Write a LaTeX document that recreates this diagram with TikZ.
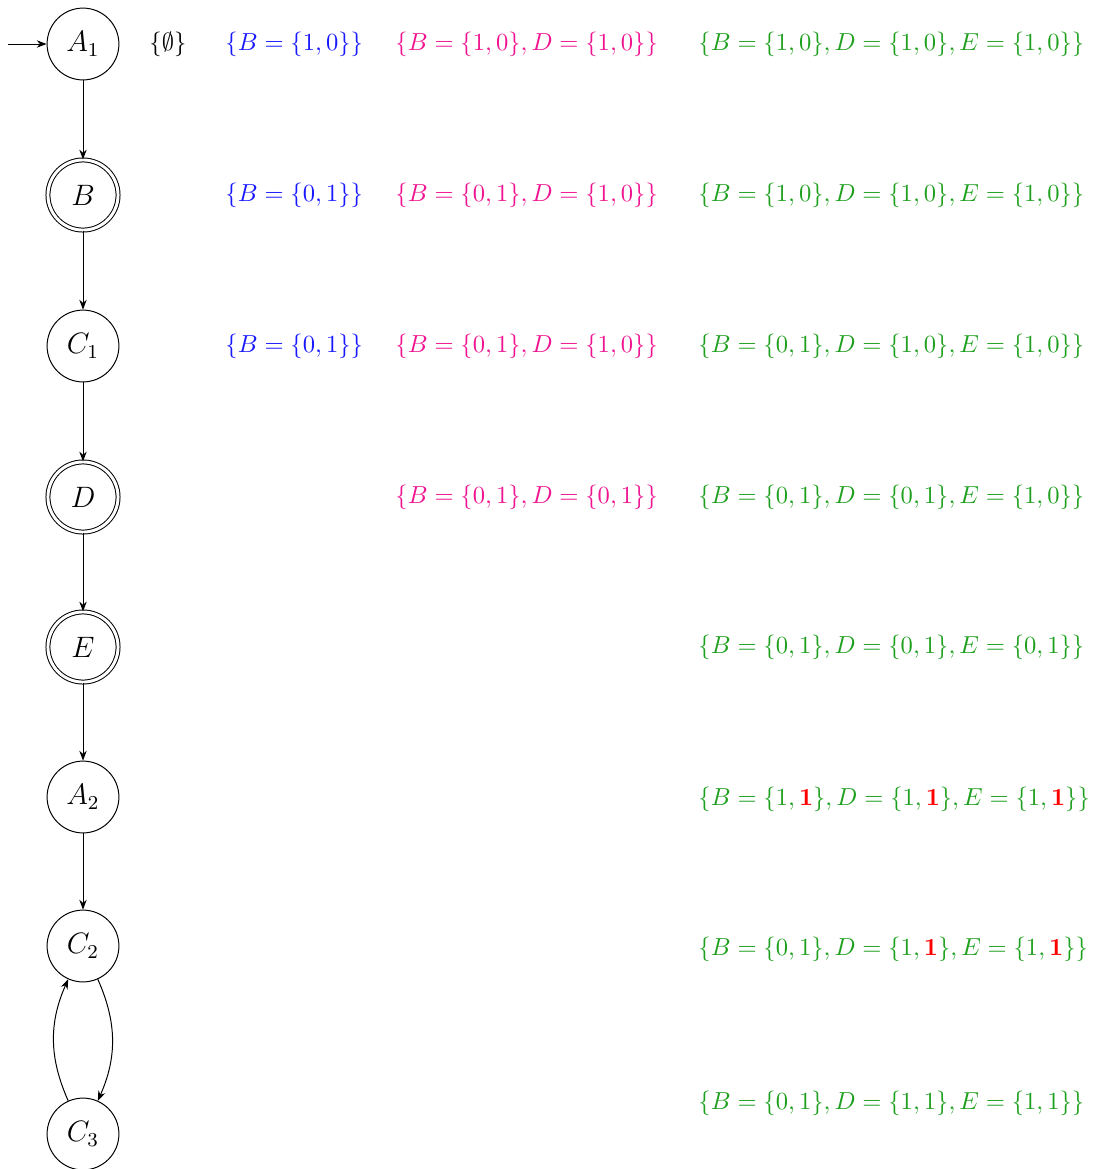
\documentclass[tikz,border=0pt]{standalone}
\usetikzlibrary{arrows.meta,automata}
\definecolor{cblue}{RGB}{25,25,255}
\definecolor{cmag}{RGB}{240,20,145}
\definecolor{cgreen}{RGB}{30,160,30}
\definecolor{cred}{RGB}{255,0,0}
\newcommand{\rb}{\textcolor{cred}{\mathbf{1}}}
\begin{document}
\begin{tikzpicture}[x=0.4065pt,y=-0.4065pt,
  st/.style={circle,draw,minimum size=29.2pt,inner sep=0pt,font=\fontsize{11.5}{14}\selectfont},
  acc/.style={st,double,double distance=1.2pt,minimum size=28.5pt},
  lbl/.style={anchor=west,inner sep=0pt},
  conn/.style={-{Stealth[length=4pt,width=3pt]}}]
\useasboundingbox (0,0) rectangle (1094,1169);
\node[st]  (A1) at (83,44)   {$A_1$};
\node[acc] (B)  at (83,195)  {$B$};
\node[st]  (C1) at (83,346)  {$C_1$};
\node[acc] (D)  at (83,497)  {$D$};
\node[acc] (E)  at (83,647)  {$E$};
\node[st]  (A2) at (83,797)  {$A_2$};
\node[st]  (C2) at (83,946)  {$C_2$};
\node[st]  (C3) at (83,1134) {$C_3$};
\coordinate (init) at (8,44);
\draw[conn] (init) -- (A1);
\draw[conn] (A1) -- (B);
\draw[conn] (B) -- (C1);
\draw[conn] (C1) -- (D);
\draw[conn] (D) -- (E);
\draw[conn] (E) -- (A2);
\draw[conn] (A2) -- (C2);
\draw[conn] (C2) to[bend left=24] (C3);
\draw[conn] (C3) to[bend left=24] (C2);
% labels
\node[lbl] (l0) at (149,44) {$\{\emptyset\}$};
\node[lbl,text=cblue] (b1) at (225,44)  {$\{B=\{1,0\}\}$};
\node[lbl,text=cblue] (b2) at (225,195) {$\{B=\{0,1\}\}$};
\node[lbl,text=cblue] (b3) at (225,346) {$\{B=\{0,1\}\}$};
\node[lbl,text=cmag] (m1) at (395,44)  {$\{B=\{1,0\},D=\{1,0\}\}$};
\node[lbl,text=cmag] (m2) at (395,195) {$\{B=\{0,1\},D=\{1,0\}\}$};
\node[lbl,text=cmag] (m3) at (395,346) {$\{B=\{0,1\},D=\{1,0\}\}$};
\node[lbl,text=cmag] (m4) at (395,497) {$\{B=\{0,1\},D=\{0,1\}\}$};
\node[lbl,text=cgreen] (g1) at (698,44)   {$\{B=\{1,0\},D=\{1,0\},E=\{1,0\}\}$};
\node[lbl,text=cgreen] (g2) at (698,195)  {$\{B=\{1,0\},D=\{1,0\},E=\{1,0\}\}$};
\node[lbl,text=cgreen] (g3) at (698,346)  {$\{B=\{0,1\},D=\{1,0\},E=\{1,0\}\}$};
\node[lbl,text=cgreen] (g4) at (698,497)  {$\{B=\{0,1\},D=\{0,1\},E=\{1,0\}\}$};
\node[lbl,text=cgreen] (g5) at (698,647)  {$\{B=\{0,1\},D=\{0,1\},E=\{0,1\}\}$};
\node[lbl,text=cgreen] (g6) at (698,799)  {$\{B=\{1,\rb\},D=\{1,\rb\},E=\{1,\rb\}\}$};
\node[lbl,text=cgreen] (g7) at (698,949)  {$\{B=\{0,1\},D=\{1,\rb\},E=\{1,\rb\}\}$};
\node[lbl,text=cgreen] (g8) at (698,1103) {$\{B=\{0,1\},D=\{1,1\},E=\{1,1\}\}$};
\end{tikzpicture}
\end{document}
